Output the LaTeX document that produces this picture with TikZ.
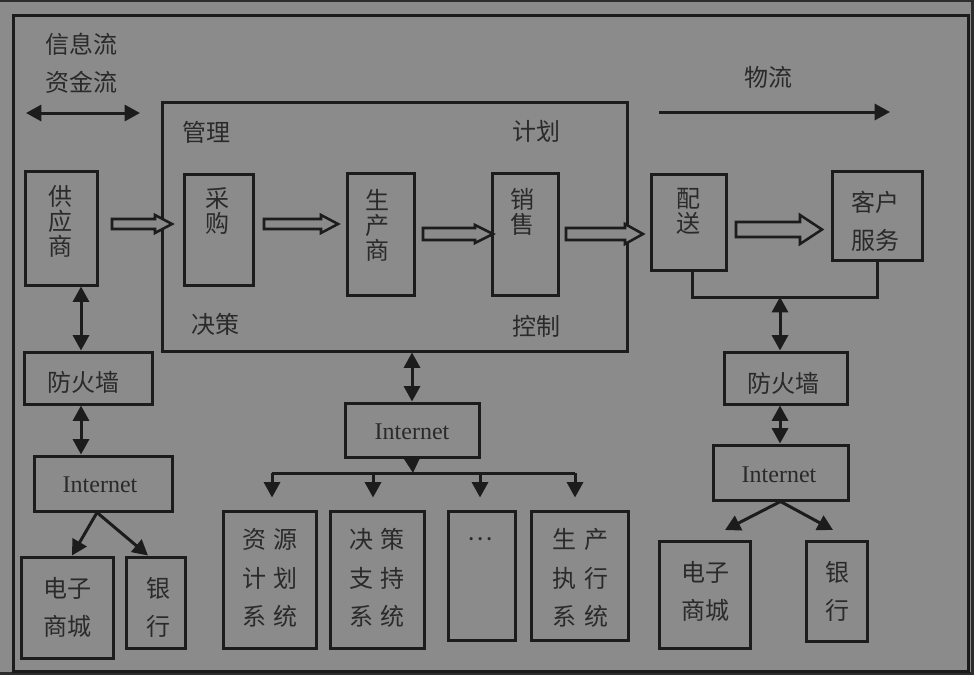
\documentclass[tikz,border=0pt]{standalone}
\usepackage{fontspec}
\setmainfont{Liberation Serif}
\newfontfamily\cjk{Noto Sans CJK SC}
\usetikzlibrary{arrows.meta,fit}
\definecolor{bg}{RGB}{139,139,139}
\definecolor{ln}{RGB}{28,28,28}
\definecolor{tx}{RGB}{42,42,42}
\definecolor{edgec}{RGB}{45,45,45}
\newcommand\hollowarrow[6]{% x1, x2, y, shaft half, head half, head length (px)
  \draw[harrow] (#1,#3-#4) -- (#2-#6,#3-#4) -- (#2-#6,#3-#5) -- (#2,#3)
    -- (#2-#6,#3+#5) -- (#2-#6,#3+#4) -- (#1,#3+#4) -- cycle;}
\newcommand\bx[5]{\node[box, fit={(#2,#3) (#4,#5)}] (#1) {};}
\newcommand\gp{\hspace{6pt}}
\begin{document}
\begin{tikzpicture}[x=0.75pt,y=-0.75pt,
  box/.style={draw=ln, line width=2.25pt, inner sep=0pt},
  lbl/.style={inner sep=0pt, text=tx, font=\cjk\fontsize{18}{18.75}\selectfont, align=center},
  lbltwo/.style={inner sep=0pt, text=tx, font=\cjk\fontsize{18}{28.5}\selectfont, align=center},
  lblthree/.style={inner sep=0pt, text=tx, font=\cjk\fontsize{18}{29}\selectfont, align=center},
  net/.style={inner sep=0pt, text=tx, font=\fontsize{18}{20}\selectfont},
  con/.style={draw=ln, line width=2.25pt},
  tip/.style={-{Triangle[length=11.5pt,width=12pt]}},
  dtip/.style={{Triangle[length=11.5pt,width=12pt]}-{Triangle[length=11.5pt,width=12pt]}},
  harrow/.style={draw=ln, line width=1.9pt, fill=bg, line join=miter}
]
% background
\fill[bg] (0,0) rectangle (974,675);
\useasboundingbox (0,0) rectangle (974,675);
\fill[edgec] (0,0) rectangle (974,2);
\fill[edgec] (971,0) rectangle (974,675);
\fill[edgec] (0,672) rectangle (974,675);

% frames and boxes
\bx{frame}{13}{15}{968}{671}
\bx{mgmt}{162}{102}{627}{351}
\bx{sup}{25}{171}{97}{285}
\bx{buy}{184}{174}{253}{285}
\bx{prod}{347}{173}{414}{295}
\bx{sale}{492}{173}{558}{295}
\bx{dist}{651}{174}{726}{270}
\bx{cust}{832}{171}{922}{260}
\bx{fwL}{24}{352}{152}{404}
\bx{netL}{34}{456}{172}{511}
\bx{malL}{21}{557}{113}{658}
\bx{bankL}{126}{557}{185}{648}
\bx{netM}{345}{403}{479}{457}
\bx{sysA}{223}{511}{316}{648}
\bx{sysB}{330}{511}{424}{648}
\bx{sysC}{448}{511}{515}{640}
\bx{sysD}{531}{511}{628}{640}
\bx{fwR}{724}{352}{847}{404}
\bx{netR}{713}{445}{848}{500}
\bx{malR}{659}{541}{750}{648}
\bx{bankR}{806}{541}{867}{641}

% texts
\node[lbl] (tInfo) at (81,44) {信息流};
\node[lbl] (tFund) at (81,82) {资金流};
\node[lbl] (tLog) at (768,77) {物流};
\node[lbl] (tMgmt) at (206,132) {管理};
\node[lbl] (tDec) at (215,324) {决策};
\node[lbl] (tPlan) at (536,131) {计划};
\node[lbl] (tCtrl) at (536,326) {控制};
\node[lbl] (tSup) at (60,221) {供\\应\\商};
\node[lbl] (tBuy) at (217,211) {采\\购};
\node[lbl] (tProd) at (377,225) {生\\产\\商};
\node[lbl] (tSale) at (522,212) {销\\售};
\node[lbl] (tDist) at (688,211) {配\\送};
\node[lbltwo] (tCust) at (875,221) {客户\\服务};
\node[lbl] (tFwL) at (83,382) {防火墙};
\node[lbl] (tFwR) at (783,383) {防火墙};
\node[net] (tNetL) at (100,485) {Internet};
\node[net] (tNetM) at (412,432) {Internet};
\node[net] (tNetR) at (779,475) {Internet};
\node[lbltwo] (tMalL) at (67,607) {电子\\商城};
\node[lbltwo] (tBankL) at (158,607) {银\\行};
\node[lbltwo] (tMalR) at (705,591) {电子\\商城};
\node[lbltwo] (tBankR) at (837,591) {银\\行};
\node[lblthree] (tSysA) at (270,578) {资\gp 源\\计\gp 划\\系\gp 统};
\node[lblthree] (tSysB) at (377,578) {决\gp 策\\支\gp 持\\系\gp 统};
\node[lbl] (tSysC) at (480,539) {…};
\node[lblthree] (tSysD) at (580,578) {生\gp 产\\执\gp 行\\系\gp 统};

% hollow flow arrows
\hollowarrow{112}{172}{224}{5}{9}{17}
\hollowarrow{264}{338}{224}{5}{9}{17}
\hollowarrow{423}{493}{234}{6}{9}{18}
\hollowarrow{566}{643}{234}{6}{10}{18}
\hollowarrow{736}{822}{229.5}{7.5}{14.5}{22}

% helper coordinates
\coordinate (lt1) at (26,113);
\coordinate (lt2) at (140,113);
\coordinate (wl1) at (659,112);
\coordinate (wl2) at (890,112);
\coordinate (cL) at (81,0);
\coordinate (cN) at (97,0);
\coordinate (cM) at (72,0);
\coordinate (cB) at (148,0);
\coordinate (bus) at (413,473);
\coordinate (b1) at (272,473);
\coordinate (b2) at (373,473);
\coordinate (b3) at (480,473);
\coordinate (b4) at (575,473);
\coordinate (jr) at (780,297);
\coordinate (rM) at (725,530);
\coordinate (rB) at (833,530);

% connectors
\draw[con,dtip] (lt1) -- (lt2);
\draw[con,tip] (wl1) -- (wl2);
\draw[con,dtip] (sup.south -| cL) -- (fwL.north -| cL);
\draw[con,dtip] (fwL.south -| cL) -- (netL.north -| cL);
\draw[con,tip] (netL.south -| cN) -- (malL.north -| cM);
\draw[con,tip] (netL.south -| cN) -- (bankL.north -| cB);
\draw[con,dtip] (mgmt.south -| netM.north) -- (netM.north);
\draw[con,tip] (netM.south) -- (bus);
\draw[con] (b1) -- (b4);
\draw[con,tip,shorten >=9pt] (b1) -- (sysA.north -| b1);
\draw[con,tip,shorten >=9pt] (b2) -- (sysB.north -| b2);
\draw[con,tip,shorten >=9pt] (b3) -- (sysC.north -| b3);
\draw[con,tip,shorten >=9pt] (b4) -- (sysD.north -| b4);
\draw[con] (dist.south -| 692,0) |- (jr) -| (cust.south);
\draw[con,dtip] (jr) -- (fwR.north -| jr);
\draw[con,dtip] (fwR.south -| jr) -- (netR.north -| jr);
\draw[con,tip] (netR.south) -- (rM);
\draw[con,tip] (netR.south) -- (rB);
\end{tikzpicture}
\end{document}
